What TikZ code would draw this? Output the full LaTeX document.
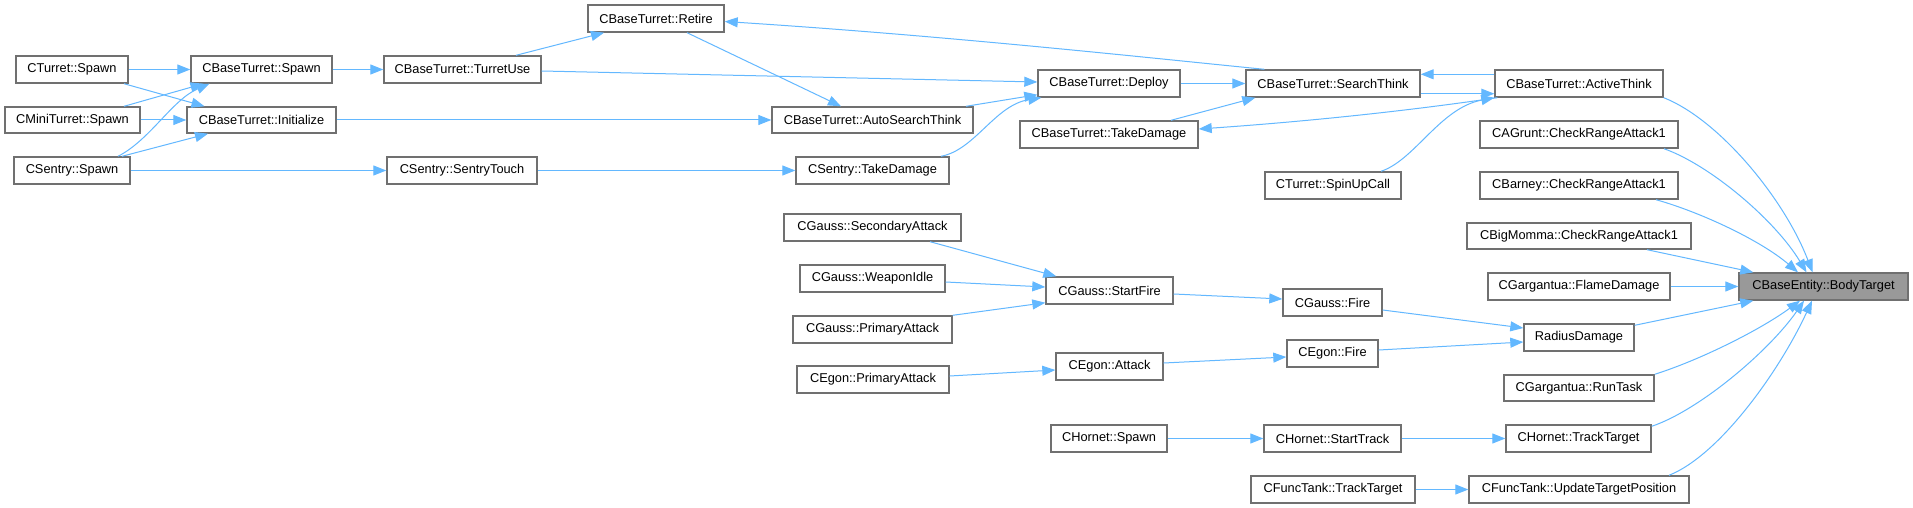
\documentclass[tikz,border=0pt]{standalone}
\usepackage{fontspec}
\setmainfont{Liberation Sans}
\usetikzlibrary{arrows.meta}
\definecolor{edgec}{HTML}{63B8FF}
\definecolor{bordc}{HTML}{707070}
\definecolor{hlc}{HTML}{999999}
\tikzset{
  box/.style={draw=bordc,line width=1.4pt,fill=white,inner sep=0pt,font=\fontsize{12.8}{15}\selectfont},
  hl/.style={fill=hlc},
  edge/.style={draw=edgec,line width=1pt,-{Triangle[length=13pt,width=10pt]}}
}
\newcommand\nd[7][]{\node[box,#1,minimum width={(#5-#3)*1pt},minimum height={(#6-#4)*1pt}] (#2) at ({(#3+#5)/2},{(#4+#6)/2}) {#7};}
\begin{document}
\begin{tikzpicture}[x=1pt,y=-1pt]
\useasboundingbox[fill=white] (0,0) rectangle (1913,508);
\nd{tsp}{16}{56}{128}{83}{CTurret::Spawn}
\nd{bts}{191}{56}{332}{83}{CBaseTurret::Spawn}
\nd{tu}{384}{56}{541}{83}{CBaseTurret::TurretUse}
\nd{mts}{5}{107}{140}{133}{CMiniTurret::Spawn}
\nd{ini}{187}{107}{336}{133}{CBaseTurret::Initialize}
\nd{ssp}{14}{157}{130}{184}{CSentry::Spawn}
\nd{st}{387}{157}{537}{184}{CSentry::SentryTouch}
\nd{ret}{588}{5}{724}{32}{CBaseTurret::Retire}
\nd{dep}{1038}{70}{1180}{97}{CBaseTurret::Deploy}
\nd{ast}{772}{107}{973}{133}{CBaseTurret::AutoSearchThink}
\nd{std}{796}{157}{949}{184}{CSentry::TakeDamage}
\nd{btd}{1020}{121}{1198}{148}{CBaseTurret::TakeDamage}
\nd{sth}{1246}{70}{1420}{97}{CBaseTurret::SearchThink}
\nd{act}{1495}{70}{1663}{97}{CBaseTurret::ActiveThink}
\nd{agr}{1480}{121}{1678}{148}{CAGrunt::CheckRangeAttack1}
\nd{suc}{1265}{172}{1401}{199}{CTurret::SpinUpCall}
\nd{bar}{1480}{172}{1678}{199}{CBarney::CheckRangeAttack1}
\nd{bgm}{1467}{223}{1691}{249}{CBigMomma::CheckRangeAttack1}
\nd{fld}{1488}{273}{1670}{300}{CGargantua::FlameDamage}
\nd[hl]{bt}{1739}{273}{1908}{300}{CBaseEntity::BodyTarget}
\nd{rd}{1524}{324}{1634}{351}{RadiusDamage}
\nd{rt}{1504}{375}{1654}{401}{CGargantua::RunTask}
\nd{htt}{1506}{425}{1651}{452}{CHornet::TrackTarget}
\nd{utp}{1469}{476}{1689}{503}{CFuncTank::UpdateTargetPosition}
\nd{gsa}{784}{214}{961}{241}{CGauss::SecondaryAttack}
\nd{gwi}{800}{265}{945}{292}{CGauss::WeaponIdle}
\nd{gpa}{793}{316}{952}{343}{CGauss::PrimaryAttack}
\nd{epa}{797}{366}{949}{393}{CEgon::PrimaryAttack}
\nd{gsf}{1046}{277}{1173}{304}{CGauss::StartFire}
\nd{eat}{1056}{353}{1163}{380}{CEgon::Attack}
\nd{gf}{1283}{289}{1382}{316}{CGauss::Fire}
\nd{ef}{1287}{340}{1378}{367}{CEgon::Fire}
\nd{hsp}{1051}{425}{1167}{452}{CHornet::Spawn}
\nd{hst}{1264}{425}{1401}{452}{CHornet::StartTrack}
\nd{ftt}{1251}{476}{1415}{503}{CFuncTank::TrackTarget}
% edges
\draw[edge] (tsp.east) -- (bts.west);
\draw[edge] ([xshift=52pt]tsp.south) -- ([xshift=-57pt]ini.north);
\draw[edge] ([xshift=51.5pt]mts.north) -- ([xshift=-58pt]bts.south);
\draw[edge] (mts.east) -- (ini.west);
\draw[edge] ([xshift=46pt]ssp.north) .. controls (150,140) and (172,100) .. ([xshift=-52pt]bts.south);
\draw[edge] ([xshift=50pt]ssp.north) -- ([xshift=-53.5pt]ini.south);
\draw[edge] (ssp.east) -- (st.west);
\draw[edge] (bts.east) -- (tu.west);
\draw[edge] ([xshift=53.5pt]tu.north) -- ([xshift=-52pt]ret.south);
\draw[edge] ([yshift=-1.5pt]tu.east) -- ([yshift=1.5pt]dep.west);
\draw[edge] (ini.east) -- (ast.west);
\draw[edge] ([xshift=31pt]ret.south) -- ([xshift=-31.5pt]ast.north);
\draw[edge] ([xshift=93.5pt]ast.north) -- ([yshift=3pt]dep.south west);
\draw[edge] (st.east) -- (std.west);
\draw[edge] ([xshift=68.5pt]std.north) .. controls (975,150) and (995,105) .. ([xshift=4pt]dep.south west);
\draw[edge] (dep.east) -- (sth.west);
\draw[edge] ([xshift=62pt]btd.north) -- ([xshift=10pt]sth.south west);
\draw[edge] ([xshift=19pt]sth.north west) .. controls (1150,58) and (950,36) .. ([yshift=-3pt]ret.east);
\draw[edge] ([yshift=4pt]sth.south east) -- ([yshift=4pt]act.south west);
\draw[edge] ([yshift=-5pt]act.north west) -- ([yshift=-5pt]sth.north east);
\draw[edge] ([xshift=3pt]act.south west) .. controls (1400,112) and (1300,122) .. ([yshift=5.5pt]btd.east);
\draw[edge] ([xshift=48pt]suc.north) .. controls (1415,160) and (1440,108) .. (act.south west);
\draw[edge] (act.south east) .. controls (1720,120) and (1785,200) .. ([xshift=-11pt]bt.north);
\draw[edge] ([xshift=85pt]agr.south) .. controls (1710,165) and (1775,220) .. ([xshift=-17pt]bt.north);
\draw[edge] ([xshift=77pt]bar.south) .. controls (1700,212) and (1760,240) .. ([xshift=-25.5pt]bt.north);
\draw[edge] ([xshift=68pt]bgm.south) -- ([xshift=15pt]bt.north west);
\draw[edge] (fld.east) -- (bt.west);
\draw[edge] ([yshift=-2pt]rd.north east) -- ([xshift=15pt]bt.south west);
\draw[edge] (rt.north east) .. controls (1700,360) and (1760,330) .. ([xshift=-23.5pt]bt.south);
\draw[edge] ([yshift=-2pt]htt.north east) .. controls (1700,410) and (1770,350) .. ([xshift=-19.5pt]bt.south);
\draw[edge] ([xshift=90pt]utp.north) .. controls (1720,455) and (1780,370) .. ([xshift=-11.5pt]bt.south);
\draw[edge] ([xshift=57.5pt]gsa.south) -- ([xshift=11pt]gsf.north west);
\draw[edge] ([yshift=-3.5pt]gwi.east) -- ([yshift=3.5pt]gsf.west);
\draw[edge] (gpa.north east) -- ([yshift=2pt]gsf.south west);
\draw[edge] ([yshift=-3.5pt]gsf.east) -- ([yshift=3.5pt]gf.west);
\draw[edge] ([yshift=-7.5pt]gf.east) -- ([yshift=9.5pt]rd.west);
\draw[edge] ([yshift=3.5pt]epa.east) -- ([yshift=-3.5pt]eat.west);
\draw[edge] ([yshift=3.5pt]eat.east) -- ([yshift=-3.5pt]ef.west);
\draw[edge] ([yshift=3.5pt]ef.east) -- ([yshift=-4.5pt]rd.west);
\draw[edge] (hsp.east) -- (hst.west);
\draw[edge] (hst.east) -- (htt.west);
\draw[edge] (ftt.east) -- (utp.west);
\end{tikzpicture}
\end{document}
